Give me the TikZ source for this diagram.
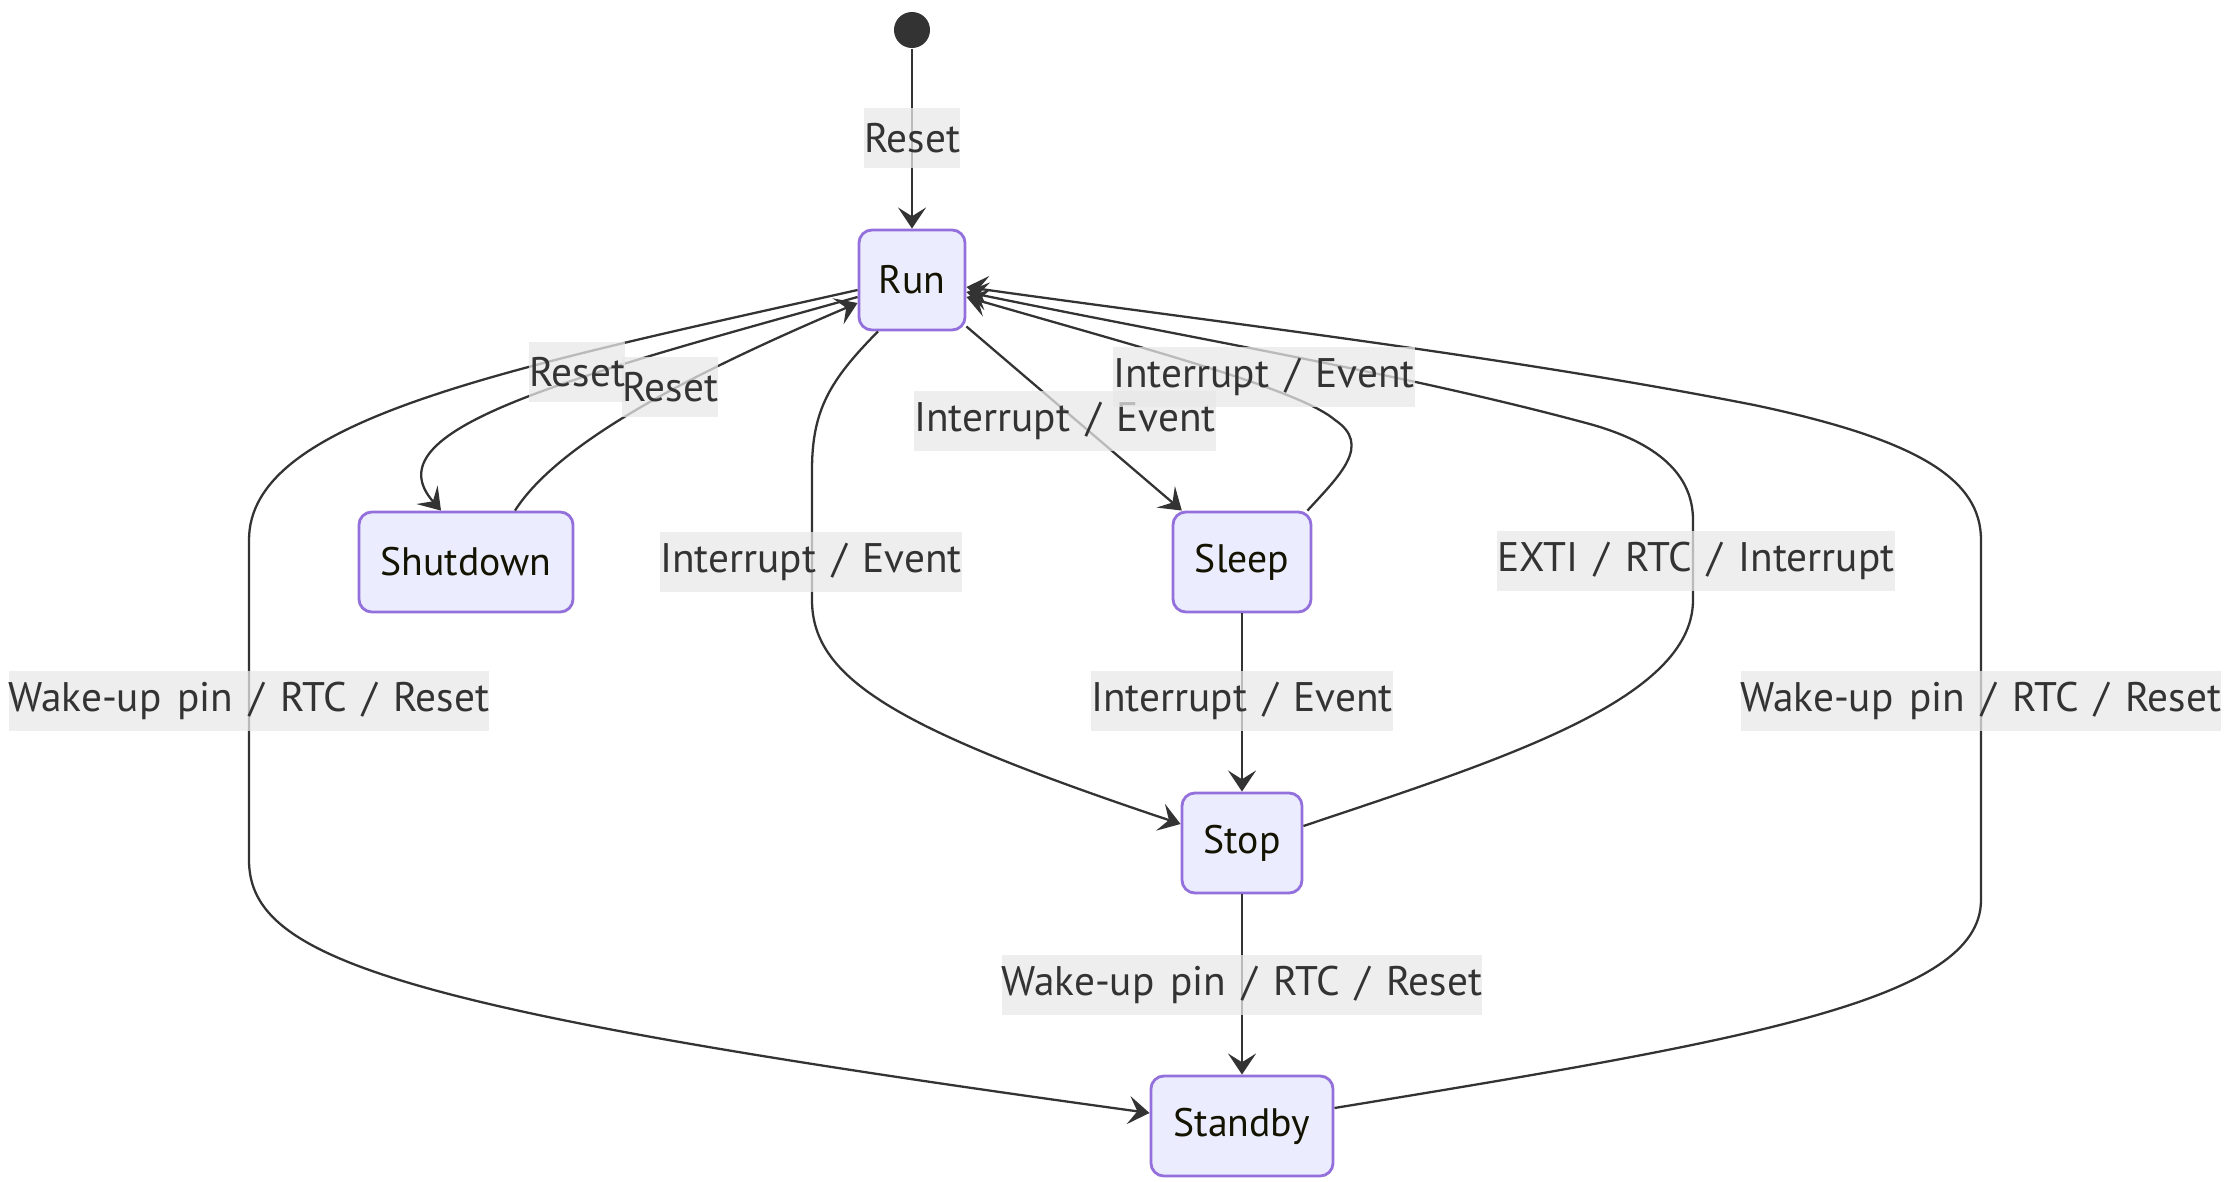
\documentclass[tikz,border=0pt]{standalone}
\usepackage{fontspec}
\setmainfont{PT Sans}[WordSpace=1.45]
\usetikzlibrary{calc,arrows.meta}
\definecolor{stfill}{HTML}{ECECFF}
\definecolor{stdraw}{HTML}{9370DB}
\definecolor{edgec}{HTML}{333333}
\definecolor{lblfill}{HTML}{E8E8E8}
\definecolor{sttext}{HTML}{131300}
\begin{document}
\begin{tikzpicture}[x=0.01cm,y=-0.01cm,
  state/.style={draw=stdraw, fill=stfill, line width=0.8pt, rounded corners=0.13cm,
    minimum height=1cm, inner xsep=0pt, text=sttext, font=\fontsize{11.3}{13}\selectfont},
  lbl/.style={fill=lblfill, fill opacity=0.75, text opacity=1, text=edgec, inner xsep=0pt,
    inner ysep=0pt, minimum height=0.6cm, font=\fontsize{11.75}{13}\selectfont},
  edge/.style={draw=edgec, line width=0.65pt, -{Stealth[length=6pt,width=8pt,inset=2.5pt]}}]
\useasboundingbox (0,0) rectangle (2229,1182);
% states
\node[circle, fill=edgec, minimum size=0.36cm, inner sep=0pt] (init) at (912,30) {};
\node[state, minimum width=1.06cm] (run) at (912,280) {Run};
\node[state, minimum width=2.14cm] (shut) at (466,562) {Shutdown};
\node[state, minimum width=1.38cm] (sleep) at (1242,562) {Sleep};
\node[state, minimum width=1.20cm] (stop) at (1242,843) {Stop};
\node[state, minimum width=1.82cm] (standby) at (1242,1126) {Standby};
% edges
\draw[edge] (init) -- (run);
\draw[edge] ($(run.west)+(0,17)$) .. controls (560,380) and (370,430) .. ($(shut.north)+(-25,0)$);
\draw[edge] ($(shut.north)+(49,0)$) .. controls (560,440) and (700,370) .. ($(run.west)+(0,23)$);
\draw[edge] (run) -- (sleep);
\draw[edge] ($(sleep.north east)+(-5,0)$) .. controls (1340,475) and (1372,445) .. (1335,420)
  .. controls (1300,390) and (1150,350) .. ($(run.east)+(0,17)$);
\draw[edge] ($(run.south)+(-34,0)$) .. controls (830,380) and (812,410) .. (812,470) -- (812,600)
  .. controls (812,680) and (900,730) .. ($(stop.west)+(0,-19)$);
\draw[edge] (sleep) -- (stop);
\draw[edge] ($(stop.east)+(0,-17)$) .. controls (1500,760) and (1693,700) .. (1693,600) -- (1693,520)
  .. controls (1693,470) and (1650,440) .. (1586,423)
  .. controls (1400,373) and (1200,340) .. ($(run.east)+(0,12)$);
\draw[edge] (stop) -- (standby);
\draw[edge] ($(standby.east)+(0,-18)$) .. controls (1750,1040) and (1981,1000) .. (1981,900) -- (1981,540)
  .. controls (1981,480) and (1920,440) .. (1754,405)
  .. controls (1500,355) and (1200,320) .. ($(run.east)+(0,7)$);
\draw[edge] ($(run.west)+(0,10)$) .. controls (500,370) and (249,420) .. (249,540) -- (249,860)
  .. controls (249,960) and (400,1010) .. ($(standby.west)+(0,-13)$);
% labels
\node[lbl] (l1) at (912,138) {Reset};
\node[lbl] (l3) at (670,387) {Reset};
\node[lbl] (l2) at (577,372) {Reset};
\node[lbl] (l4) at (1065,421) {Interrupt / Event};
\node[lbl] (l5) at (1264,377) {Interrupt / Event};
\node[lbl] (l6) at (811,562) {Interrupt / Event};
\node[lbl] (l7) at (1696,561) {EXTI / RTC / Interrupt};
\node[lbl] (l8) at (1242,701) {Interrupt / Event};
\node[lbl] (l9) at (249,701) {Wake-up pin / RTC / Reset};
\node[lbl] (l10) at (1981,701) {Wake-up pin / RTC / Reset};
\node[lbl] (l11) at (1242,985) {Wake-up pin / RTC / Reset};
\end{tikzpicture}
\end{document}
